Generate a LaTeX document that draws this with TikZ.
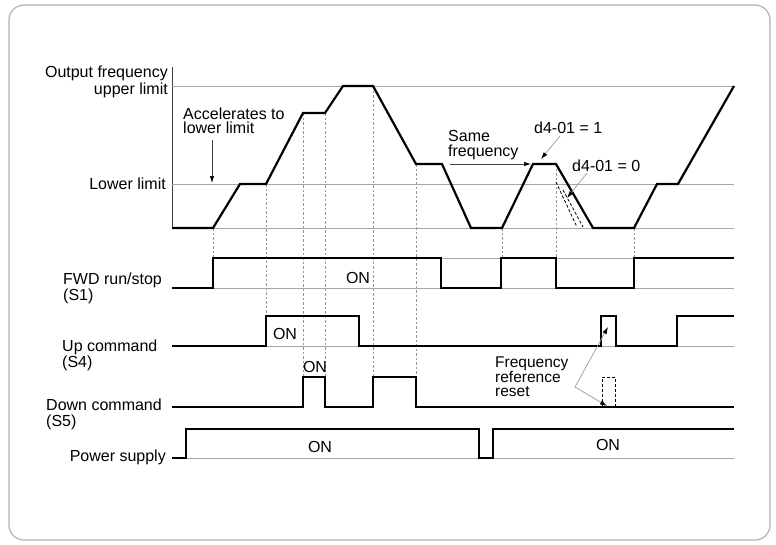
\documentclass[tikz,border=0pt]{standalone}
\usepackage{fontspec}
\setmainfont{Liberation Sans}
\usetikzlibrary{arrows.meta}
\begin{document}
\begin{tikzpicture}[x=1pt,y=-1pt,
  thinline/.style={draw=gray!70, line width=0.8pt},
  sig/.style={line width=2.4pt, line join=miter},
  sigm/.style={line width=1.8pt, line join=miter},
  curve/.style={line width=2.2pt, line join=miter},
  guide/.style={draw=gray!85, line width=0.7pt, dash pattern=on 2.5pt off 2pt},
  lbl/.style={inner sep=0pt, font=\fontsize{16}{15}\selectfont},
  ann/.style={draw=black!75, line width=0.7pt, -{Latex[length=7pt,width=4.5pt,color=black]}},
  anng/.style={draw=gray!80, line width=0.7pt, -{Latex[length=7pt,width=4.5pt,color=black]}},
]
\useasboundingbox (0,0) rectangle (776,544);
\draw[gray!60, line width=1.2pt, rounded corners=15pt] (9,5) rectangle (770,540);

% guides
\foreach \x/\a/\b in {213/228/258, 266/184/316, 303/113/377, 325/113/377, 373/86/377, 416/164/377, 502/228/258, 556/164/258, 634/228/258}
  \draw[guide] (\x,\a) -- (\x,\b);

% frequency chart
\draw[draw=black!75, line width=0.8pt] (172,67) -- (172,228);
\draw[thinline] (172,86) -- (734,86);
\draw[thinline] (172,184) -- (734,184);
\draw[thinline] (172,228) -- (734,228);
\draw[curve] (172,228) -- (213,228) -- (240,184) -- (266,184) -- (303,113) -- (325,113) -- (343,86) -- (373,86) -- (416,164) -- (442,164) -- (471,228) -- (502,228) -- (533,164) -- (556,164) -- (593,228) -- (634,228) -- (657,184) -- (678,184) -- (734,86);
\draw[black, line width=0.8pt, dash pattern=on 3pt off 2pt] (556,182) -- (577,227);
\draw[black, line width=0.8pt, dash pattern=on 3pt off 2pt] (563,190) -- (583,227);

% FWD run/stop
\draw[thinline] (213,258) -- (734,258);
\draw[thinline] (172,288) -- (734,288);
\draw[sig] (172,288) -- (213,288) -- (213,258) -- (441,258) -- (441,288) -- (501,288) -- (501,258) -- (556,258) -- (556,288) -- (634,288) -- (634,258) -- (734,258);

% Up command
\draw[thinline] (172,346) -- (734,346);
\draw[sigm] (172,346) -- (266,346) -- (266,316) -- (359,316) -- (359,346) -- (601,346) -- (601,316) -- (616,316) -- (616,346) -- (677,346) -- (677,316) -- (734,316);

% Down command
\draw[sig] (172,407) -- (303,407) -- (303,377) -- (325,377) -- (325,407) -- (373,407) -- (373,377) -- (416,377) -- (416,407) -- (734,407);
\draw[black, line width=1pt, dash pattern=on 3pt off 2pt] (602,407) -- (602,377) -- (615,377) -- (615,407);

% Power supply
\draw[thinline] (172,458) -- (734,458);
\draw[line width=2pt, line join=miter] (172,458) -- (186,458) -- (186,429) -- (479,429) -- (479,458) -- (493,458) -- (493,429) -- (734,429);

% labels
\node[lbl, align=right, anchor=north east, font=\fontsize{16}{17}\selectfont] (ofu) at (168,65.6) {Output frequency\\upper limit};
\node[lbl, align=left, anchor=north west, font=\fontsize{16}{14.5}\selectfont] (acc) at (183,107.3) {Accelerates to\\lower limit};
\node[lbl, anchor=base east] (ll) at (166,189) {Lower limit};
\node[lbl, align=left, anchor=north west, font=\fontsize{16}{14}\selectfont] (fwd) at (63,272.8) {FWD run/stop\\(S1)};
\node[lbl, align=left, anchor=north west, font=\fontsize{16}{13}\selectfont] (up) at (62,339.3) {Up command\\(S4)};
\node[lbl, align=left, anchor=north west, font=\fontsize{16}{16}\selectfont] (down) at (46,399) {Down command\\(S5)};
\node[lbl, anchor=base east] (pw) at (166,461) {Power supply};
\node[lbl, anchor=base] (on1) at (358,283) {ON};
\node[lbl, anchor=base] (on2) at (285,339) {ON};
\node[lbl, anchor=base] (on3) at (315,372) {ON};
\node[lbl, anchor=base] (on4) at (320,452) {ON};
\node[lbl, anchor=base] (on5) at (608,450) {ON};
\node[lbl, align=left, anchor=north west, font=\fontsize{16}{15}\selectfont] (same) at (448,130.3) {Same\\frequency};
\node[lbl, anchor=base west] (d1) at (534,133) {d4-01 = 1};
\node[lbl, anchor=base west] (d0) at (572,171) {d4-01 = 0};
\node[lbl, align=left, anchor=north west, font=\fontsize{15.5}{13.3}\selectfont] (frr) at (495,356.5) {Frequency\\reference\\reset};

% annotation arrows
\coordinate (accT) at (212,140);
\coordinate (accH) at (212,183);
\draw[ann] (accT) -- (accH);
\draw[ann] (450,164) -- (531,164);
\draw[anng] (560,136) -- (541,159);
\draw[anng] (587,173) -- (567,198);
\coordinate (apex) at (575,387);
\draw[anng] (apex) -- (608,327);
\draw[anng] (apex) -- (607,406);
\end{tikzpicture}
\end{document}
